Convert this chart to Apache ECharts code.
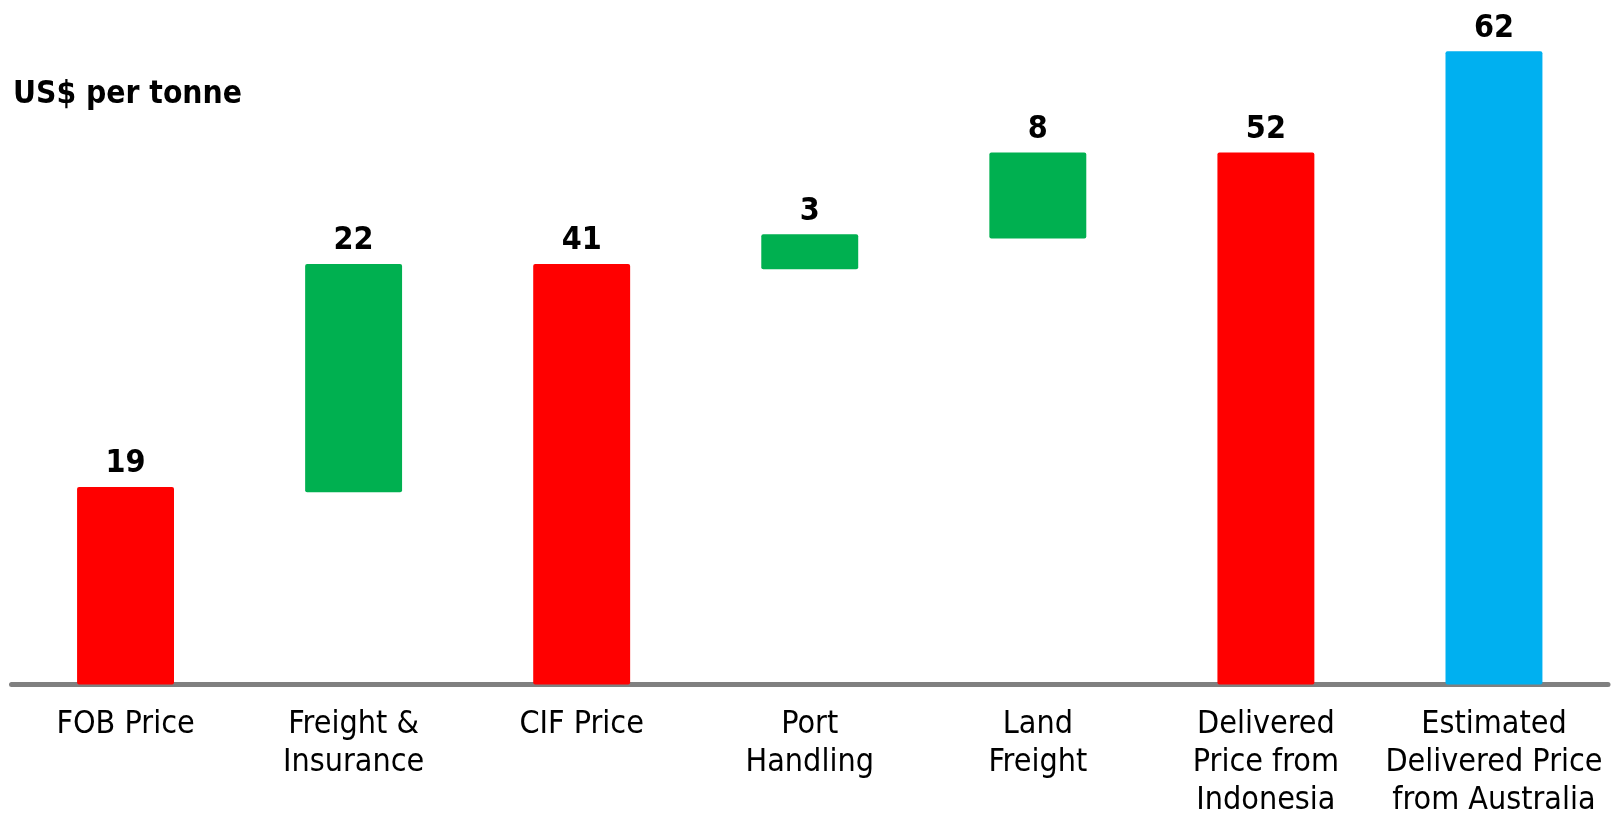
<!DOCTYPE html>
<html>
<head>
<meta charset="utf-8">
<script src="https://cdn.jsdelivr.net/npm/echarts@6/dist/echarts.min.js"></script>
<style>
  html, body { margin: 0; padding: 0; background: #fff; }
  #chart { width: 1616px; height: 814px; }
</style>
</head>
<body>
<div id="chart"></div>
<script>
const categories = [
  'FOB Price',
  'Freight &\nInsurance',
  'CIF Price',
  'Port\nHandling',
  'Land\nFreight',
  'Delivered\nPrice from\nIndonesia',
  'Estimated\nDelivered Price\nfrom Australia'
]
// invisible offset under the floating (cost) bars
const baseValues = [0, 18.8, 0, 40.6, 43.6, 0, 0]
// visible bar heights, US$ per tonne
const barValues = [19.3, 22.3, 41.1, 3.4, 8.4, 52.0, 61.9]
const barColors = ['#ff0000', '#00b050', '#ff0000', '#00b050', '#00b050', '#ff0000', '#00b0f0']

const font = '"DejaVu Sans Condensed", "DejaVu Sans", sans-serif'

const chart = echarts.init(document.getElementById('chart'))
chart.setOption({
  animation: false,
  title: {
    text: 'US$ per tonne',
    left: 8,
    top: 72,
    textStyle: { fontFamily: font, fontSize: 31.5, fontWeight: 'bold', color: '#000', lineHeight: 36 }
  },
  grid: { left: 11.5, right: 8, top: 19.5, bottom: 129.5, outerBoundsMode: 'none' },
  xAxis: {
    type: 'category',
    data: categories,
    axisLine: { lineStyle: { color: '#808080', width: 5 } },
    axisTick: { show: false },
    axisLabel: {
      interval: 0,
      margin: 21,
      fontFamily: font,
      fontSize: 32,
      lineHeight: 38,
      color: '#000'
    }
  },
  yAxis: {
    type: 'value',
    min: 0,
    max: 65,
    show: false,
    splitLine: { show: false }
  },
  series: [
    {
      type: 'bar',
      stack: 'w',
      data: baseValues,
      itemStyle: { color: 'transparent' },
      barWidth: '42.5%',
      silent: true
    },
    {
      type: 'bar',
      stack: 'w',
      data: barValues.map((v, i) => ({ value: v, itemStyle: { color: barColors[i] } })),
      barWidth: '42.5%',
      itemStyle: { borderRadius: 2 },
      label: {
        show: true,
        position: 'top',
        distance: 7,
        fontFamily: font,
        fontSize: 32,
        fontWeight: 'bold',
        color: '#000',
        formatter: p => Math.round(p.value)
      }
    }
  ]
})
</script>
</body>
</html>
